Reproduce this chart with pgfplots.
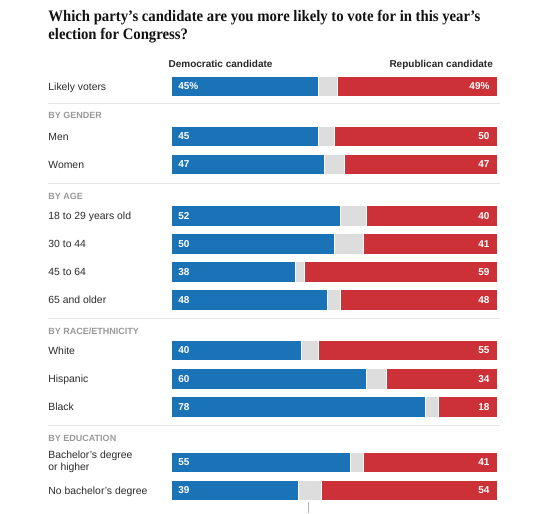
\documentclass[border=0pt]{standalone}
\usepackage{pgfplots}
\pgfplotsset{compat=1.18}
\usepackage{pgfplotstable}
\usepackage{fontspec}
\setmainfont{Liberation Sans}
\newfontfamily\titlefont[FakeStretch=0.92]{Liberation Serif}
\definecolor{demblue}{HTML}{1A72B7}
\definecolor{repred}{HTML}{CB3136}
\definecolor{undec}{HTML}{DDDDDD}
\definecolor{sepline}{HTML}{E4E4E4}
\definecolor{hdrgray}{HTML}{999999}
\definecolor{txt}{HTML}{2A2A2A}
\definecolor{ttl}{HTML}{121212}

\pgfplotstableread{
y     dem rep dl     rl
86.5  45  49  45\%   49\%
136.5 45  50  45     50
164.5 47  47  47     47
216   52  40  52     40
244   50  41  50     41
272   38  59  38     59
300   48  48  48     48
350.5 40  55  40     55
379   60  34  60     34
407   78  18  78     18
462.5 55  41  55     41
490.5 39  54  39     54
}\polldata

\begin{document}
\begin{tikzpicture}
\begin{axis}[
  scale only axis, width=545pt, height=513pt,
  xmin=-52.55, xmax=114.63, ymin=0, ymax=513, y dir=reverse,
  hide axis, clip=false,
]
% red: full length (Republican portion visible at right)
\addplot[xbar, bar shift=0pt, bar width=20.5, fill=repred, draw=white, line width=1pt,
  nodes near coords, point meta=explicit symbolic,
  nodes near coords style={anchor=east, xshift=-4pt, text=white, font=\bfseries\fontsize{10}{12}\selectfont}]
  table[x expr=100, y=y, meta=rl] {\polldata};
% gray: undecided/other
\addplot[xbar, bar shift=0pt, bar width=20.5, fill=undec, draw=white, line width=1pt]
  table[x expr=100-\thisrow{rep}, y=y] {\polldata};
% blue: Democratic
\addplot[xbar, bar shift=0pt, bar width=20.5, fill=demblue, draw=white, line width=1pt]
  table[x=dem, y=y] {\polldata};
% blue labels
\addplot[draw=none, mark=none, nodes near coords, point meta=explicit symbolic,
  nodes near coords style={anchor=west, xshift=3.5pt, text=white, font=\bfseries\fontsize{10}{12}\selectfont}]
  table[x expr=0, y=y, meta=dl] {\polldata};

% separators
\foreach \yy in {104,183,318,425.3}{
  \edef\tmp{\noexpand\draw[sepline, line width=1pt] (axis cs:-37.76,\yy) -- (axis cs:100.8,\yy);}\tmp
}
\draw[gray!60, line width=0.8pt] (axis cs:41.9,502) -- (axis cs:41.9,513);

% title
\node[anchor=base west, inner sep=0pt, text=ttl, font=\titlefont\bfseries\fontsize{16}{18}\selectfont]
  at (axis cs:-37.76,21.5) {Which party’s candidate are you more likely to vote for in this year’s};
\node[anchor=base west, inner sep=0pt, text=ttl, font=\titlefont\bfseries\fontsize{16}{18}\selectfont]
  at (axis cs:-37.76,39.5) {election for Congress?};

% column headers
\node[anchor=base west, inner sep=0pt, text=black!85, font=\bfseries\fontsize{10}{12}\selectfont]
  at (axis cs:-0.9,68) {Democratic candidate};
\node[anchor=base east, inner sep=0pt, text=black!85, font=\bfseries\fontsize{10}{12}\selectfont]
  at (axis cs:98.7,68) {Republican candidate};

% group headers
\tikzset{hdr/.style={anchor=base west, inner sep=0pt, text=hdrgray, font=\bfseries\fontsize{9}{11}\selectfont}}
\node[hdr] at (axis cs:-37.76,119) {BY GENDER};
\node[hdr] at (axis cs:-37.76,199) {BY AGE};
\node[hdr] at (axis cs:-37.76,334) {BY RACE/ETHNICITY};
\node[hdr] at (axis cs:-37.76,441) {BY EDUCATION};

% row labels
\tikzset{rl/.style={anchor=base west, inner sep=0pt, text=txt, font=\fontsize{10.4}{12}\selectfont}}
\node[rl] at (axis cs:-37.76,90.2) {Likely voters};
\node[rl] at (axis cs:-37.76,140.2) {Men};
\node[rl] at (axis cs:-37.76,168.2) {Women};
\node[rl] at (axis cs:-37.76,219.7) {18 to 29 years old};
\node[rl] at (axis cs:-37.76,247.7) {30 to 44};
\node[rl] at (axis cs:-37.76,275.7) {45 to 64};
\node[rl] at (axis cs:-37.76,303.7) {65 and older};
\node[rl] at (axis cs:-37.76,354.2) {White};
\node[rl] at (axis cs:-37.76,382.7) {Hispanic};
\node[rl] at (axis cs:-37.76,410.7) {Black};
\node[rl] at (axis cs:-37.76,458.7) {Bachelor’s degree};
\node[rl] at (axis cs:-37.76,470.4) {or higher};
\node[rl] at (axis cs:-37.76,494.2) {No bachelor’s degree};
\end{axis}
\pgfresetboundingbox
\path (current axis.south west) rectangle (current axis.north east);
\end{tikzpicture}
\end{document}
